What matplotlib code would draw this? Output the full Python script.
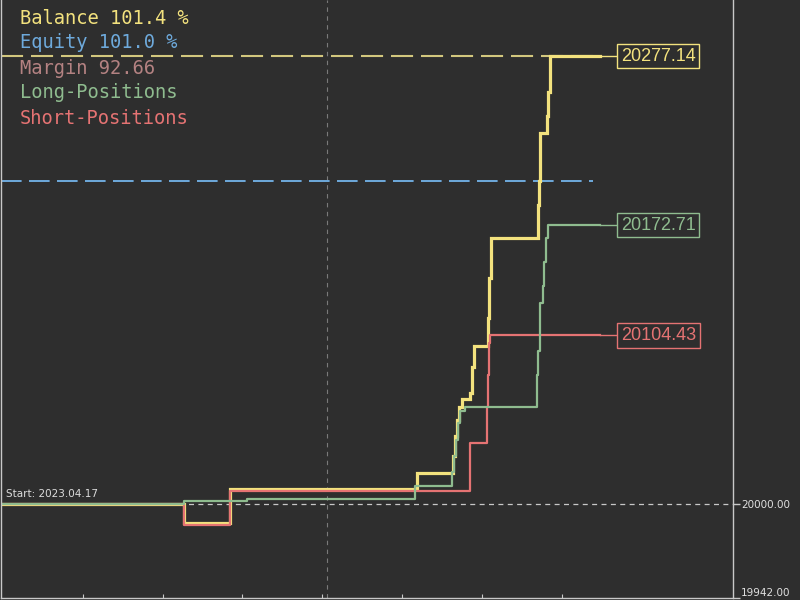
import matplotlib.pyplot as plt

# Data (x = bar index on the chart, y = account value)
balance_x = [0, 183, 230, 417, 453, 455, 457, 459, 462, 470, 472, 474, 488, 489, 491, 538, 539, 540, 547, 548, 550, 600]
balance_y = [20000, 19988.5, 20009.5, 20019.6, 20030, 20042, 20052, 20060, 20065.3, 20069, 20085, 20098.2,
             20115, 20140, 20164.5, 20185, 20200, 20229.5, 20240, 20255, 20277.14, 20277.14]

long_x = [0, 183, 247, 415, 452, 454, 456, 458, 460, 465, 537, 538, 540, 543, 544, 546, 548, 600]
long_y = [20000, 20002.1, 20003.3, 20011, 20020, 20030, 20040, 20050, 20058, 20060, 20080, 20095,
          20124.5, 20135, 20150, 20165, 20172.71, 20172.71]

short_x = [0, 183, 230, 470, 487, 488, 489, 490, 600]
short_y = [20000, 19987.2, 20008.2, 20038.2, 20060, 20080, 20100, 20104.43, 20104.43]

balance_final = 20277.14
equity_level = 20200.0
start_value = 20000.0
y_min, y_max = 19942, 20312
x_max = 733

legend_lines = ["Balance 101.4 %", "Equity 101.0 %", "Margin 92.66", "Long-Positions", "Short-Positions"]

# Colours
bg = "#2e2e2e"
c_balance = "#f3e27e"
c_balance_dash = "#d2c77e"
c_equity = "#6eaadc"
c_margin = "#b48282"
c_long = "#8fbc8f"
c_short = "#e57373"
c_axis = "#c8c8c8"

fig = plt.figure(figsize=(8, 6), dpi=100, facecolor=bg)
ax = fig.add_axes([0.001, 2 / 600, (x_max - 1) / 800, 598 / 600])
ax.set_facecolor(bg)
ax.set_xlim(0, x_max)
ax.set_ylim(y_min, y_max)

# Grid-ish lines
ax.axvline(327, color="#7a7a7a", lw=0.8, dashes=(4, 4))
ax.axhline(start_value, color=c_axis, lw=0.9, dashes=(4, 3.5))

# Dashed level lines
ax.plot([0, 600], [balance_final, balance_final], color=c_balance_dash, lw=1.5, dashes=(10.6, 3.8))
ax.plot([0, 593], [equity_level, equity_level], color=c_equity, lw=1.4, dashes=(10.6, 3.8))

# Step curves
ax.step(balance_x, balance_y, where="post", color=c_balance, lw=2.3, solid_joinstyle="miter")
ax.step(short_x, short_y, where="post", color=c_short, lw=1.6)
ax.step(long_x, long_y, where="post", color=c_long, lw=1.6)

# Value boxes on the right
for val, col in [(balance_final, c_balance), (long_y[-1], c_long), (short_y[-1], c_short)]:
    ax.plot([600, 620], [val, val], color=col, lw=1)
    ax.text(621, val, f"{val:.2f}", color=col, fontsize=13, family="Liberation Sans",
            va="center", ha="left",
            bbox=dict(boxstyle="square,pad=0.2", fc=bg, ec=col, lw=1))

# Start label
ax.text(5, start_value + 3, "Start: 2023.04.17", color="#dcdcdc", fontsize=7.5, va="bottom", ha="left")

# Axes styling
ax.spines["top"].set_visible(False)
for side in ["left", "right", "bottom"]:
    ax.spines[side].set_color(c_axis)
    ax.spines[side].set_linewidth(1)
ax.yaxis.tick_right()
ax.set_yticks([start_value, y_min])
ax.set_yticklabels([f"{start_value:.2f}", f"{y_min:.2f}"])
ax.tick_params(axis="y", colors=c_axis, labelcolor="#e0e0e0", labelsize=7.5, length=5, width=1, pad=1)
ax.get_yticklabels()[1].set_verticalalignment("bottom")
ax.set_xticks([82, 162, 242, 322, 402, 482, 562])
ax.tick_params(axis="x", colors=c_axis, length=3, direction="in", labelbottom=False)

# Legend text block
for i, (txt, col) in enumerate(zip(legend_lines, [c_balance, c_equity, c_margin, c_long, c_short])):
    fig.text(20 / 800, 1 - (18 + 25 * i) / 600, txt, color=col, fontsize=13.5, family="DejaVu Sans Mono",
             va="center", ha="left")

fig.savefig("out.png", dpi=100, facecolor=bg)
